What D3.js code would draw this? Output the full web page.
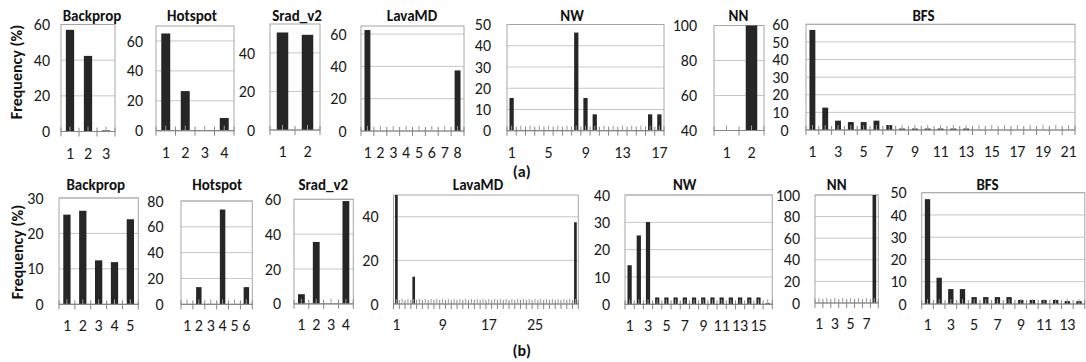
<!DOCTYPE html>
<html><head><meta charset="utf-8">
<script src="https://cdn.jsdelivr.net/npm/d3@7"></script>
<style>body{margin:0;background:#fff}</style>
</head><body><svg id="c" width="1086" height="362"></svg>
<script>
// ---------- DATA ----------
const panelTitles = ["Backprop", "Hotspot", "Srad_v2", "LavaMD", "NW", "NN", "BFS"];
const rowLabels = ["(a)", "(b)"];
const yAxisTitle = "Frequency (%)";

// Row (a) values (%)
const backpropA = [57, 42.4, 0.6];
const hotspotA = [65, 26.5, 0, 8.5];
const sradA = [50.6, 49.4];
const lavaA = [62.5, 0, 0, 0, 0, 0, 0, 37.5];
const nwA = [15.4, 0, 0, 0, 0, 0, 0, 46.2, 15.4, 7.7, 0, 0, 0, 0, 0, 7.7, 7.7];
const nnA = [0, 100];
const bfsA = [56.8, 12.7, 5.3, 4.5, 4.5, 5.3, 2.8, 0.8, 0.8, 0.8, 0.8, 0.8, 0.8, 0, 0, 0, 0, 0, 0, 0, 0];

// Row (b) values (%)
const backpropB = [25.3, 26.4, 12.4, 11.9, 24.0];
const hotspotB = [0, 13.3, 0.3, 73.4, 0, 13.3];
const sradB = [5.5, 35.5, 0, 59];
const lavaB = [50, 0, 0, 12.5, 0, 0, 0, 0, 0, 0, 0, 0, 0, 0, 0, 0, 0, 0, 0, 0, 0, 0, 0, 0, 0, 0, 0, 0, 0, 0, 0, 37.5];
const nwB = [14.3, 25.2, 30.1, 2.5, 2.5, 2.5, 2.5, 2.5, 2.5, 2.5, 2.5, 2.5, 2.5, 2.5, 2.5, 0.4];
const nnB = [0, 0, 0, 0, 0, 0, 0, 100];
const bfsB = [47.1, 11.8, 6.7, 6.7, 3.1, 3.1, 3.1, 3.1, 1.8, 1.8, 1.8, 1.8, 1.3, 1.3];

// Y tick labels
const yTicksBackpropA = [0, 20, 40, 60];
const yTicksHotspotA = [0, 20, 40, 60];
const yTicksSradA = [0, 20, 40];
const yTicksLavaA = [0, 20, 40, 60];
const yTicksNwA = [0, 10, 20, 30, 40, 50];
const yTicksNnA = [40, 60, 80, 100];
const yTicksBfsA = [0, 10, 20, 30, 40, 50, 60];
const yTicksBackpropB = [0, 10, 20, 30];
const yTicksHotspotB = [0, 20, 40, 60, 80];
const yTicksSradB = [0, 20, 40, 60];
const yTicksLavaB = [0, 20, 40];
const yTicksNwB = [0, 10, 20, 30, 40];
const yTicksNnB = [0, 20, 40, 60, 80, 100];
const yTicksBfsB = [0, 10, 20, 30, 40, 50];

// X tick labels shown
const xTicksBackpropA = [1, 2, 3];
const xTicksHotspotA = [1, 2, 3, 4];
const xTicksSradA = [1, 2];
const xTicksLavaA = [1, 2, 3, 4, 5, 6, 7, 8];
const xTicksNwA = [1, 5, 9, 13, 17];
const xTicksNnA = [1, 2];
const xTicksBfsA = [1, 3, 5, 7, 9, 11, 13, 15, 17, 19, 21];
const xTicksBackpropB = [1, 2, 3, 4, 5];
const xTicksHotspotB = [1, 2, 3, 4, 5, 6];
const xTicksSradB = [1, 2, 3, 4];
const xTicksLavaB = [1, 9, 17, 25];
const xTicksNwB = [1, 3, 5, 7, 9, 11, 13, 15];
const xTicksNnB = [1, 3, 5, 7];
const xTicksBfsB = [1, 3, 5, 7, 9, 11, 13];

// Axis ranges [min, max]
const yDomainsA = [[0, 60], [0, 70], [0, 55], [0, 65], [0, 50], [40, 100], [0, 60]];
const yDomainsB = [[0, 30], [0, 80], [0, 60], [0, 50], [0, 40], [0, 100], [0, 50]];

const panels = [
  {row: 0, t: 0, v: backpropA, yt: yTicksBackpropA, xt: xTicksBackpropA, yd: yDomainsA[0]},
  {row: 0, t: 1, v: hotspotA, yt: yTicksHotspotA, xt: xTicksHotspotA, yd: yDomainsA[1]},
  {row: 0, t: 2, v: sradA, yt: yTicksSradA, xt: xTicksSradA, yd: yDomainsA[2]},
  {row: 0, t: 3, v: lavaA, yt: yTicksLavaA, xt: xTicksLavaA, yd: yDomainsA[3]},
  {row: 0, t: 4, v: nwA, yt: yTicksNwA, xt: xTicksNwA, yd: yDomainsA[4]},
  {row: 0, t: 5, v: nnA, yt: yTicksNnA, xt: xTicksNnA, yd: yDomainsA[5]},
  {row: 0, t: 6, v: bfsA, yt: yTicksBfsA, xt: xTicksBfsA, yd: yDomainsA[6]},
  {row: 1, t: 0, v: backpropB, yt: yTicksBackpropB, xt: xTicksBackpropB, yd: yDomainsB[0]},
  {row: 1, t: 1, v: hotspotB, yt: yTicksHotspotB, xt: xTicksHotspotB, yd: yDomainsB[1]},
  {row: 1, t: 2, v: sradB, yt: yTicksSradB, xt: xTicksSradB, yd: yDomainsB[2]},
  {row: 1, t: 3, v: lavaB, yt: yTicksLavaB, xt: xTicksLavaB, yd: yDomainsB[3]},
  {row: 1, t: 4, v: nwB, yt: yTicksNwB, xt: xTicksNwB, yd: yDomainsB[4]},
  {row: 1, t: 5, v: nnB, yt: yTicksNnB, xt: xTicksNnB, yd: yDomainsB[5]},
  {row: 1, t: 6, v: bfsB, yt: yTicksBfsB, xt: xTicksBfsB, yd: yDomainsB[6]}
];

// ---------- LAYOUT (positions only) ----------
const layout = [
  {x0: 61, x1: 115, y0: 24.5, y1: 131.5, tx: 92, gap: 11},
  {x0: 156, x1: 234, y0: 26, y1: 130.7, tx: 192, gap: 13},
  {x0: 270, x1: 320, y0: 24, y1: 130, tx: 297, gap: 15},
  {x0: 361, x1: 464, y0: 26, y1: 131, tx: 412, gap: 14.5},
  {x0: 507, x1: 664, y0: 24.5, y1: 130.7, tx: 572, gap: 16},
  {x0: 714, x1: 764, y0: 25.5, y1: 130.5, tx: 738.5, gap: 17},
  {x0: 806, x1: 1075, y0: 24.3, y1: 130, tx: 923.5, gap: 17.5},
  {x0: 59, x1: 138.3, y0: 198, y1: 304.3, tx: 95.7, gap: 15.5},
  {x0: 181, x1: 252.3, y0: 201, y1: 304.3, tx: 217.3, gap: 17.5},
  {x0: 294, x1: 353.3, y0: 199.3, y1: 303.8, tx: 323.3, gap: 13},
  {x0: 393.5, x1: 578.3, y0: 195, y1: 304, tx: 478, gap: 15},
  {x0: 625, x1: 772.3, y0: 195, y1: 304.3, tx: 684.7, gap: 15},
  {x0: 815, x1: 878.3, y0: 195, y1: 303, tx: 836.7, gap: 15},
  {x0: 921.7, x1: 1084.8, y0: 192.7, y1: 304, tx: 987.5, gap: 15}
];
const rowTitleBaseline = [20.5, 190];
const rowXLabelPad = [16, 15];

const FONT = "Carlito, Calibri, Lato, sans-serif";
const TICK_SIZE = 16;
const svg = d3.select("#c").style("font-family", FONT);

panels.forEach((p, i) => {
  const L = layout[i];
  const n = p.v.length;
  const cats = d3.range(1, n + 1);
  const x = d3.scaleBand().domain(cats).range([L.x0, L.x1]).paddingInner(0.54).paddingOuter(0.27);
  const y = d3.scaleLinear().domain(p.yd).range([L.y1, L.y0]).clamp(true);
  const step = (L.x1 - L.x0) / n;
  const g = svg.append("g");

  // gridlines
  g.selectAll("line.grid").data(p.yt.filter(t => t > p.yd[0])).join("line")
    .attr("x1", L.x0).attr("x2", L.x1)
    .attr("y1", d => y(d)).attr("y2", d => y(d))
    .attr("stroke", "#c6c6c6").attr("stroke-width", 1);

  // plot area border
  g.append("rect").attr("x", L.x0).attr("y", L.y0)
    .attr("width", L.x1 - L.x0).attr("height", L.y1 - L.y0)
    .attr("fill", "none").attr("stroke", "#a6a6a6").attr("stroke-width", 1);

  // bars
  g.selectAll("rect.bar").data(p.v.map((v, k) => ({c: k + 1, v}))).join("rect")
    .attr("x", d => x(d.c)).attr("width", x.bandwidth())
    .attr("y", d => y(d.v)).attr("height", d => Math.max(0, L.y1 - y(d.v)))
    .attr("fill", "#262626");

  // axis baseline
  g.append("line").attr("x1", L.x0).attr("x2", L.x1).attr("y1", L.y1).attr("y2", L.y1)
    .attr("stroke", "#868686").attr("stroke-width", 1.2);
  // category boundary ticks
  g.selectAll("line.bt").data(d3.range(0, n + 1)).join("line")
    .attr("x1", k => L.x0 + k * step).attr("x2", k => L.x0 + k * step)
    .attr("y1", L.y1 - 4).attr("y2", L.y1 + 5)
    .attr("stroke", "#868686").attr("stroke-width", 1);
  // center marks
  g.selectAll("line.ct").data(cats).join("line")
    .attr("x1", c => x(c) + x.bandwidth() / 2).attr("x2", c => x(c) + x.bandwidth() / 2)
    .attr("y1", L.y1 - 5).attr("y2", L.y1)
    .attr("stroke", "#9a9a9a").attr("stroke-width", 1);

  // y axis labels
  const ya = g.append("g").attr("transform", `translate(${L.x0},0)`)
    .call(d3.axisLeft(y).tickValues(p.yt).tickSize(0).tickPadding(L.gap).tickFormat(d3.format("d")));
  ya.select(".domain").remove();
  ya.selectAll("text").attr("font-family", FONT).attr("font-size", TICK_SIZE).attr("fill", "#1a1a1a");

  // x axis labels
  const xa = g.append("g").attr("transform", `translate(0,${L.y1})`)
    .call(d3.axisBottom(x).tickValues(p.xt).tickSize(0).tickPadding(rowXLabelPad[p.row]));
  xa.select(".domain").remove();
  xa.selectAll("text").attr("font-family", FONT).attr("font-size", TICK_SIZE).attr("fill", "#1a1a1a");

  // title
  g.append("text").attr("x", L.tx).attr("y", rowTitleBaseline[p.row])
    .attr("text-anchor", "middle").attr("font-weight", "bold").attr("font-size", 15)
    .attr("fill", "#111").text(panelTitles[p.t]);
});

// y axis titles
[[17, 72], [18, 252]].forEach(([cx, cy]) => {
  svg.append("text").attr("transform", `translate(${cx + 5},${cy}) rotate(-90)`)
    .attr("text-anchor", "middle").attr("font-weight", "bold").attr("font-size", 16)
    .attr("fill", "#111").text(yAxisTitle);
});

// row labels
[[521.7, 177], [521.7, 356]].forEach(([cx, by], k) => {
  svg.append("text").attr("x", cx).attr("y", by).attr("text-anchor", "middle")
    .attr("font-weight", "bold").attr("font-size", 16).attr("fill", "#111").text(rowLabels[k]);
});
</script>
</body></html>
